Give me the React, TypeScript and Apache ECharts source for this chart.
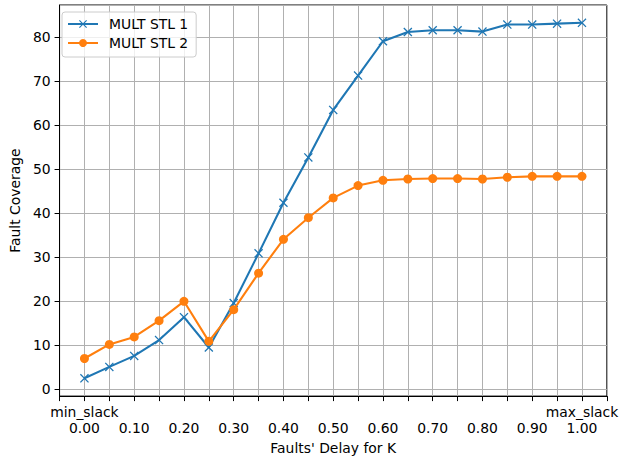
import React, { useEffect, useRef } from "react";
import * as echarts from "echarts";

const xValues = [0.0, 0.05, 0.1, 0.15, 0.2, 0.25, 0.3, 0.35, 0.4, 0.45, 0.5, 0.55, 0.6, 0.65, 0.7, 0.75, 0.8, 0.85, 0.9, 0.95, 1.0];
const stl1 = [2.5, 5.1, 7.6, 11.2, 16.4, 9.5, 19.6, 30.9, 42.4, 52.7, 63.5, 71.3, 79.1, 81.2, 81.6, 81.6, 81.3, 82.9, 82.9, 83.1, 83.3];
const stl2 = [7.0, 10.2, 11.9, 15.6, 20.0, 10.9, 18.1, 26.4, 34.1, 39.0, 43.5, 46.3, 47.5, 47.8, 47.9, 47.9, 47.8, 48.2, 48.4, 48.4, 48.4];
const seriesNames = ["MULT STL 1", "MULT STL 2"];
const edgeLabels = { min: "min_slack", max: "max_slack" };

const FONT = "DejaVu Sans";
const FS = 13.9;
const X_MARK = "path://M1,0 L5,4 L9,0 L10,1 L6,5 L10,9 L9,10 L5,6 L1,10 L0,9 L4,5 L0,1 Z";

export default function App() {
  const ref = useRef<HTMLDivElement>(null);
  useEffect(() => {
    if (!ref.current) return;
    const chart = echarts.init(ref.current, null, { renderer: "svg" });
    const allVals = [...stl1, ...stl2];
    const lo = Math.min(...allVals);
    const hi = Math.max(...allVals);
    const pad = (hi - lo) * 0.05;
    chart.setOption({
      animation: false,
      textStyle: { fontFamily: FONT },
      grid: {
        left: 55,
        right: 13,
        top: 5,
        bottom: 62,
        show: true,
        borderColor: "#000",
        borderWidth: 1,
        backgroundColor: "transparent",
      },
      legend: {
        orient: "vertical",
        left: 62,
        top: 12,
        padding: [4, 8, 6, 5],
        itemGap: 3,
        itemWidth: 30,
        itemHeight: 10,
        backgroundColor: "rgba(255,255,255,0.8)",
        borderColor: "#cccccc",
        borderWidth: 1,
        borderRadius: 3,
        textStyle: { fontFamily: FONT, fontSize: FS, color: "#000", lineHeight: 16, padding: [0, 0, 0, 6] },
        data: seriesNames,
      },
      xAxis: {
        type: "value",
        min: -0.05,
        max: 1.05,
        interval: 0.05,
        name: "Faults' Delay for K",
        nameLocation: "middle",
        nameGap: 44,
        nameTextStyle: { fontFamily: FONT, fontSize: FS, color: "#000" },
        axisLine: { show: true, onZero: false, lineStyle: { color: "#000", width: 1 } },
        axisTick: { show: true, length: 5, lineStyle: { color: "#000", width: 1 } },
        splitLine: { show: true, lineStyle: { color: "#b0b0b0", width: 1 } },
        axisLabel: {
          show: true,
          margin: 8,
          fontFamily: FONT,
          fontSize: FS,
          color: "#000",
          lineHeight: 16,
          showMinLabel: true,
          showMaxLabel: true,
          formatter: (v: number) => {
            const k = Math.round(v * 100);
            if (k < 0 || k > 100 || k % 10 !== 0) return "";
            const t = (k / 100).toFixed(2);
            if (k === 0) return edgeLabels.min + "\n" + t;
            if (k === 100) return edgeLabels.max + "\n" + t;
            return "\n" + t;
          },
        },
      },
      yAxis: {
        type: "value",
        min: lo - pad,
        max: hi + pad,
        splitNumber: 9,
        name: "Fault Coverage",
        nameLocation: "middle",
        nameGap: 32,
        nameRotate: 90,
        nameTextStyle: { fontFamily: FONT, fontSize: FS, color: "#000" },
        axisLine: { show: true, onZero: false, lineStyle: { color: "#000", width: 1 } },
        axisTick: { show: true, length: 5, lineStyle: { color: "#000", width: 1 } },
        splitLine: { show: true, lineStyle: { color: "#b0b0b0", width: 1 } },
        axisLabel: {
          margin: 9,
          fontFamily: FONT,
          fontSize: FS,
          color: "#000",
          showMinLabel: false,
          showMaxLabel: false,
          formatter: (v: number) => String(Math.round(v)),
        },
      },
      series: [
        {
          name: seriesNames[0],
          type: "line",
          data: xValues.map((x, i) => [x, stl1[i]]),
          color: "#1f77b4",
          lineStyle: { width: 2.1, color: "#1f77b4" },
          symbol: X_MARK,
          symbolSize: 9,
          showAllSymbol: true,
          itemStyle: { color: "#1f77b4" },
          z: 3,
        },
        {
          name: seriesNames[1],
          type: "line",
          data: xValues.map((x, i) => [x, stl2[i]]),
          color: "#ff7f0e",
          lineStyle: { width: 2.1, color: "#ff7f0e" },
          symbol: "circle",
          symbolSize: 9,
          showAllSymbol: true,
          itemStyle: { color: "#ff7f0e" },
          z: 4,
        },
      ],
    });
    return () => chart.dispose();
  }, []);
  return <div ref={ref} style={{ width: 621, height: 460, position: "absolute", left: 0, top: 0, background: "#fff" }} />;
}
